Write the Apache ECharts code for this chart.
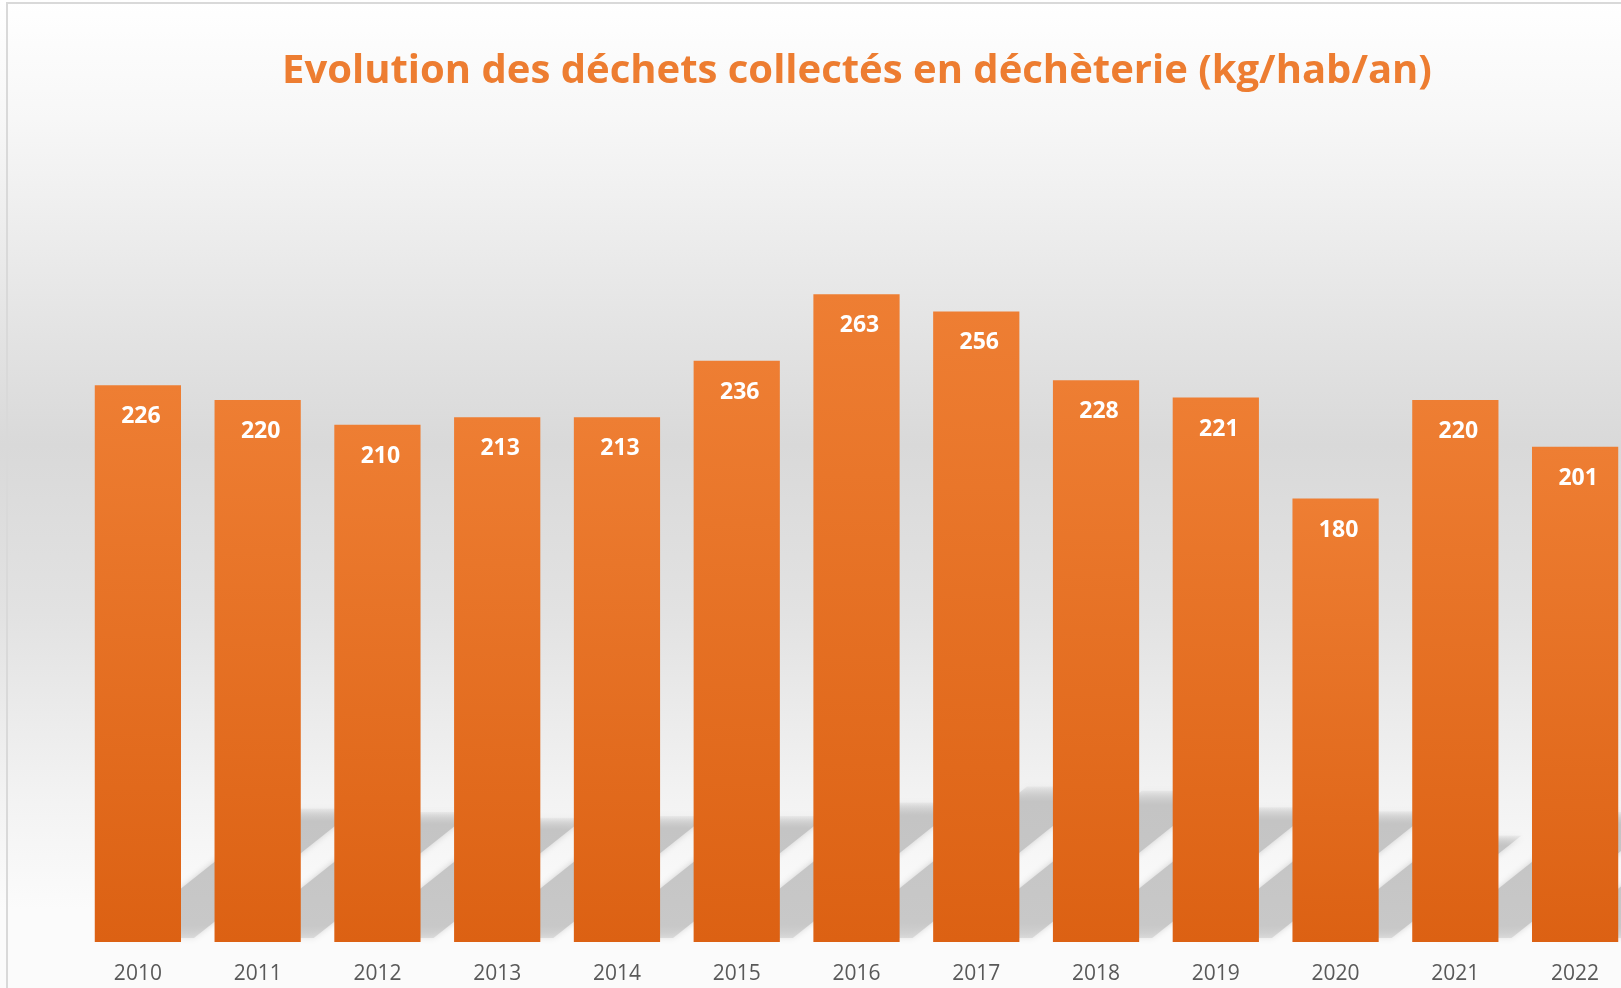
<!DOCTYPE html>
<html>
<head>
<meta charset="utf-8">
<script src="https://cdn.jsdelivr.net/npm/echarts@6/dist/echarts.min.js"></script>
<style>
  html, body { margin: 0; padding: 0; background: #fff; }
  #chart { width: 1621px; height: 988px; }
</style>
</head>
<body>
<div id="chart"></div>
<script>
const years = ['2010', '2011', '2012', '2013', '2014', '2015', '2016', '2017', '2018', '2019', '2020', '2021', '2022'];
const kgPerHab = [226, 220, 210, 213, 213, 236, 263, 256, 228, 221, 180, 220, 201];

const chart = echarts.init(document.getElementById('chart'));

// floor shadow of each bar, slanted up and to the right behind the next bars
function renderShadow(params, api) {
  const base = api.coord([api.value(0), 0]);
  const top = api.coord([api.value(0), api.value(1)]);
  const w = api.size([1, 0])[0] * 0.72;
  const x0 = base[0] - w / 2;
  const y0 = base[1];
  const h = (y0 - top[1]) * 0.24;
  const dx = h * 1.22;
  return {
    type: 'polygon',
    shape: {
      points: [
        [x0 + 24, y0 - 4],
        [x0 + w + 13, y0 - 4],
        [x0 + w + 13 + dx, y0 - h],
        [x0 + 24 + dx, y0 - h]
      ]
    },
    style: {
      fill: {
        type: 'linear', x: 0, y: 0, x2: 0, y2: 1,
        colorStops: [
          { offset: 0, color: 'rgba(200,200,200,0.2)' },
          { offset: 0.1, color: 'rgba(196,196,196,1)' },
          { offset: 0.9, color: 'rgba(200,200,200,1)' },
          { offset: 1, color: 'rgba(205,205,205,0.6)' }
        ]
      },
      shadowBlur: 6,
      shadowColor: 'rgba(200,200,200,0.8)'
    },
    silent: true
  };
}

chart.setOption({
  backgroundColor: {
    type: 'linear', x: 0, y: 0, x2: 0, y2: 1,
    colorStops: [
      { offset: 0, color: '#ffffff' },
      { offset: 0.12, color: '#f7f7f7' },
      { offset: 0.45, color: '#d9d9d9' },
      { offset: 0.62, color: '#e2e2e2' },
      { offset: 0.8, color: '#f2f2f2' },
      { offset: 0.92, color: '#fbfbfb' },
      { offset: 1, color: '#fbfbfb' }
    ]
  },
  graphic: [{
    type: 'rect',
    shape: { x: 7, y: 3, width: 1640, height: 1000 },
    style: { fill: 'none', stroke: '#d9d9d9', lineWidth: 2 },
    silent: true
  }],
  title: {
    text: 'Evolution des déchets collectés en déchèterie (kg/hab/an)',
    left: 852,
    textAlign: 'center',
    top: 47,
    textStyle: {
      color: '#ED7D31',
      fontFamily: 'Open Sans',
      fontWeight: 'bold',
      fontSize: 40
    }
  },
  grid: { left: 78, top: 203, width: 1557, height: 739, outerBoundsMode: 'none', containLabel: false },
  xAxis: {
    type: 'category',
    data: years,
    axisLine: { show: false },
    axisTick: { show: false },
    axisLabel: {
      color: '#595959',
      fontFamily: 'Open Sans',
      fontSize: 21,
      margin: 22
    }
  },
  yAxis: {
    type: 'value',
    min: 0,
    max: 300,
    show: false,
    splitLine: { show: false }
  },
  series: [{
    type: 'custom',
    data: years.map((y, i) => [i, kgPerHab[i]]),
    renderItem: renderShadow,
    clip: false,
    z: 1
  }, {
    type: 'bar',
    data: kgPerHab,
    barCategoryGap: '28%',
    z: 2,
    itemStyle: {
      color: {
        type: 'linear', x: 0, y: 0, x2: 0, y2: 1,
        colorStops: [
          { offset: 0, color: '#EE7E33' },
          { offset: 1, color: '#DC6113' }
        ]
      }
    },
    label: {
      show: true,
      position: 'insideTop',
      distance: 20,
      offset: [3, 0],
      color: '#ffffff',
      fontFamily: 'Open Sans',
      fontWeight: 'bold',
      fontSize: 23
    }
  }]
});
</script>
</body>
</html>
